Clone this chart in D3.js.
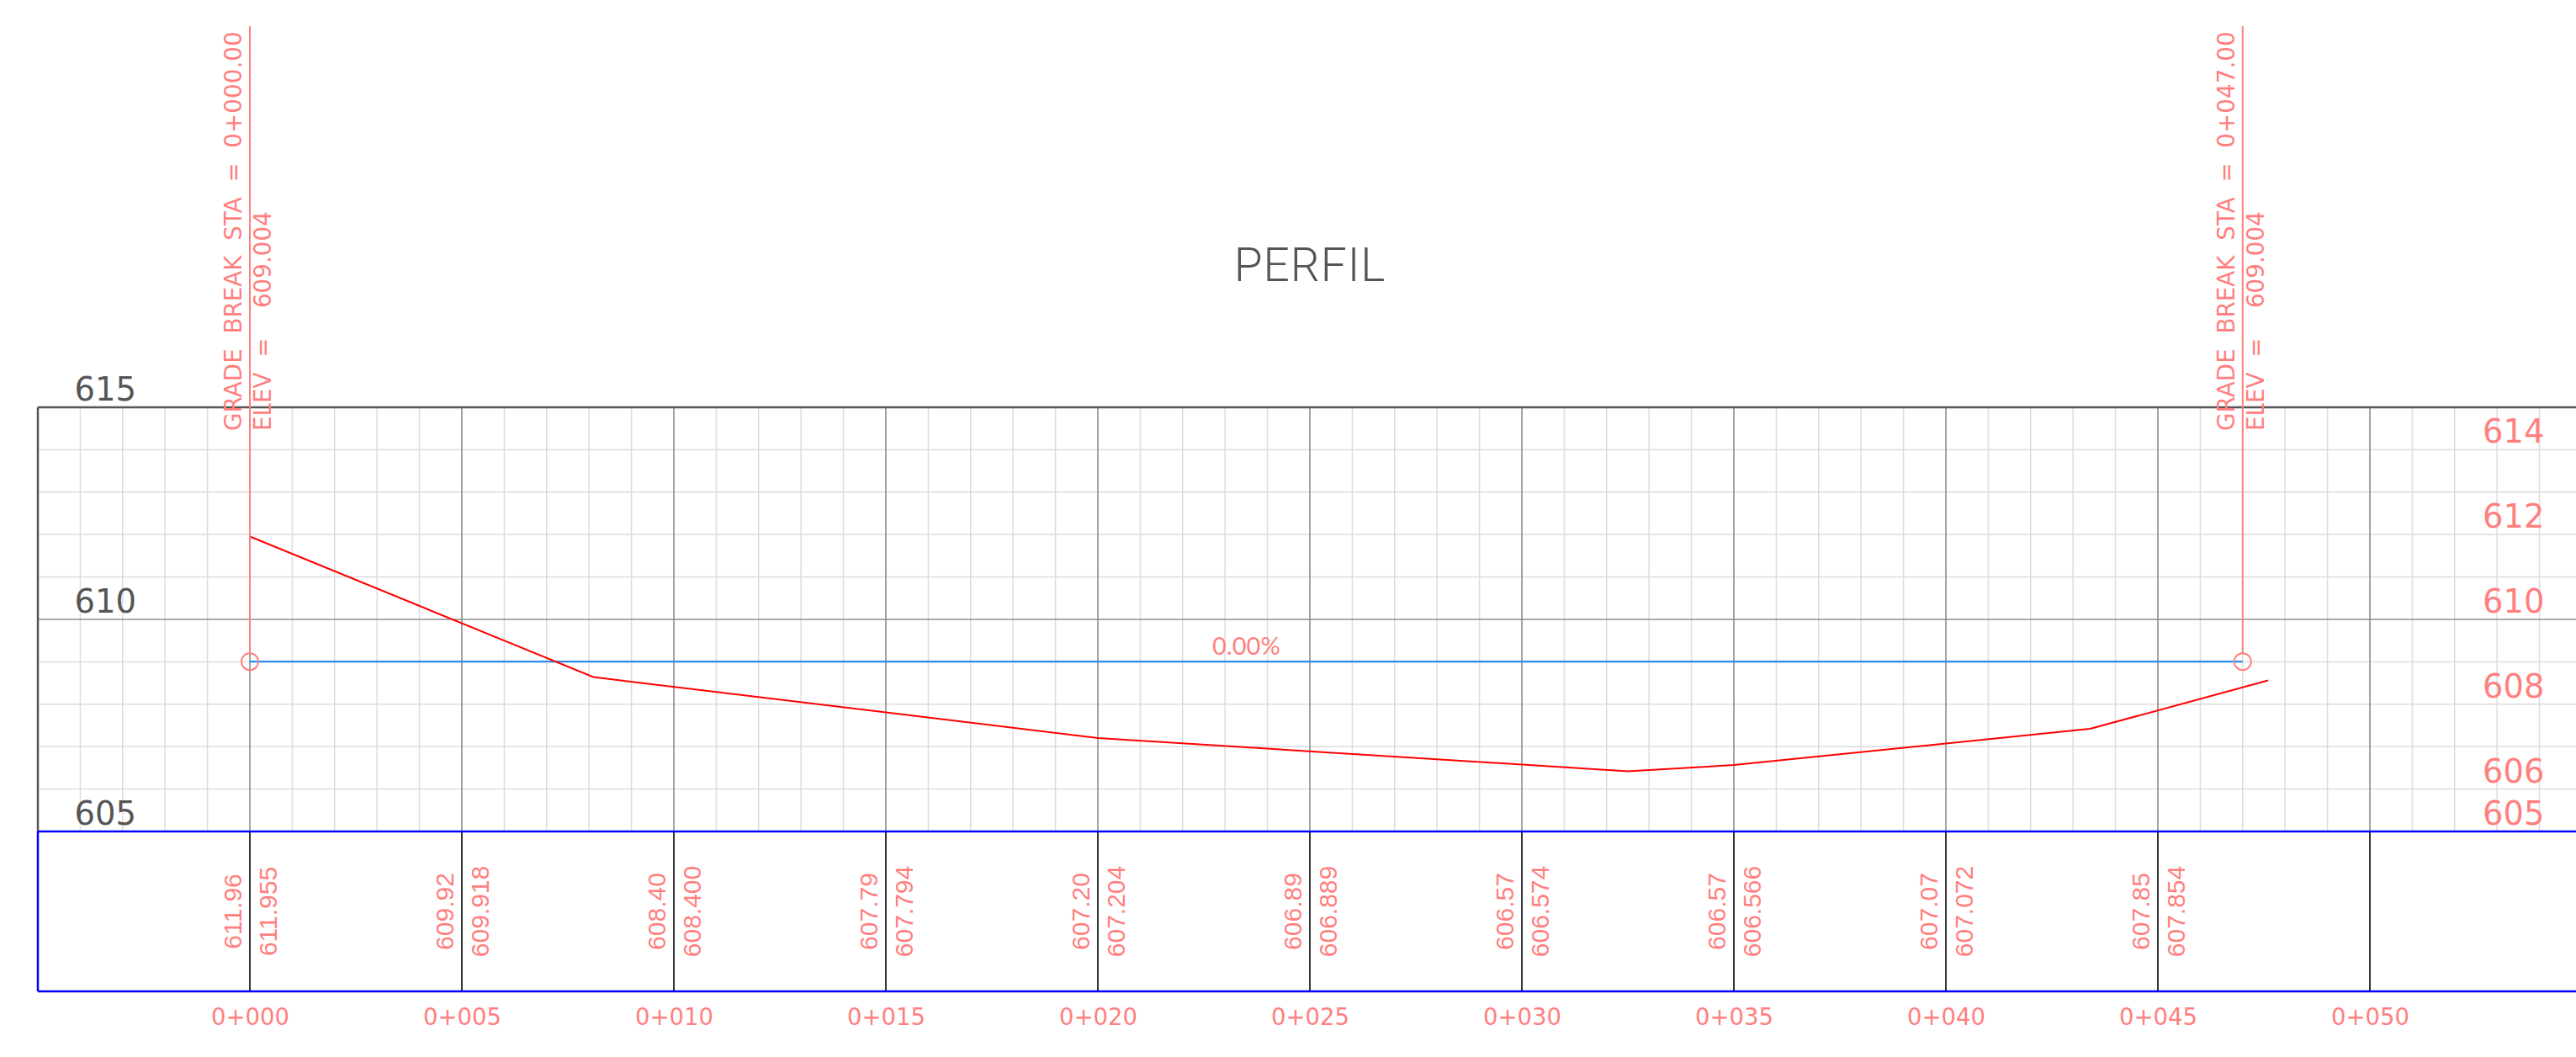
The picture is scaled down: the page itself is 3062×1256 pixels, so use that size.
<!DOCTYPE html>
<html>
<head>
<meta charset="utf-8">
<script src="https://cdn.jsdelivr.net/npm/d3@7"></script>
<style>
  html, body { margin: 0; padding: 0; background: #ffffff; }
  svg { display: block; }
</style>
</head>
<body>
<script>
// ---------------- DATA ----------------
const stationTicks = [0, 5, 10, 15, 20, 25, 30, 35, 40, 45, 50];
const bandStations = [0, 5, 10, 15, 20, 25, 30, 35, 40, 45];
const bandLeftLabels = ["611.96", "609.92", "608.40", "607.79", "607.20", "606.89", "606.57", "606.57", "607.07", "607.85"];
const bandRightLabels = ["611.955", "609.918", "608.400", "607.794", "607.204", "606.889", "606.574", "606.566", "607.072", "607.854"];
const groundStations = [0, 8.1, 20, 32.5, 35, 43.4, 47.6];
const groundElevs = [611.955, 608.64, 607.204, 606.42, 606.566, 607.42, 608.56];
const gradeStations = [0, 47];
const gradeElevs = [609.004, 609.004];
const gradeLabel = "0.00%";
const breakStations = [0, 47];
const breakStaLabels = ["0+000.00", "0+047.00"];
const breakElevLabels = ["609.004", "609.004"];
const leftElevTicks = [615, 610, 605];
const rightElevTicks = [614, 612, 610, 608, 606, 605];
const titleText = "PERFIL";

// ---------------- LAYOUT ----------------
const W = 3062, H = 1256;
const x = d3.scaleLinear().domain([-5, 55]).range([45, 3069]);
const y = d3.scaleLinear().domain([605, 615]).range([988, 484]);
const bandTop = 988, bandBot = 1178, bandMid = (bandTop + bandBot) / 2;
const salmon = "#ff7f7f";
const dark = "#555555";

const svg = d3.select("body").append("svg")
  .attr("width", W).attr("height", H)
  .style("background", "#fff");

// minor grid
const minorX = d3.range(-4, 56).filter(d => d % 5 !== 0);
const minorY = d3.range(606, 615).filter(d => d !== 610);
svg.append("g").selectAll("line").data(minorX).join("line")
  .attr("x1", d => x(d)).attr("x2", d => x(d))
  .attr("y1", y(615)).attr("y2", y(605))
  .attr("stroke", "#dcdcdc").attr("stroke-width", 1.5);
svg.append("g").selectAll("line").data(minorY).join("line")
  .attr("x1", x(-5)).attr("x2", x(55))
  .attr("y1", d => y(d)).attr("y2", d => y(d))
  .attr("stroke", "#dcdcdc").attr("stroke-width", 1.5);

// major grid
const majorX = d3.range(0, 56, 5);
svg.append("g").selectAll("line").data(majorX).join("line")
  .attr("x1", d => x(d)).attr("x2", d => x(d))
  .attr("y1", y(615)).attr("y2", y(605))
  .attr("stroke", "#8c8c8c").attr("stroke-width", 1.6);
svg.append("line")
  .attr("x1", x(-5)).attr("x2", x(55))
  .attr("y1", y(610)).attr("y2", y(610))
  .attr("stroke", "#8c8c8c").attr("stroke-width", 1.6);

// borders
svg.append("line").attr("x1", x(-5)).attr("x2", x(55))
  .attr("y1", y(615)).attr("y2", y(615))
  .attr("stroke", dark).attr("stroke-width", 2.5);
svg.append("line").attr("x1", x(-5)).attr("x2", x(-5))
  .attr("y1", y(615)).attr("y2", y(605))
  .attr("stroke", dark).attr("stroke-width", 2.5);

// band
svg.append("g").selectAll("line").data(stationTicks).join("line")
  .attr("x1", d => x(d)).attr("x2", d => x(d))
  .attr("y1", bandTop).attr("y2", bandBot)
  .attr("stroke", "#000").attr("stroke-width", 1.6);
svg.append("line").attr("x1", x(-5)).attr("x2", x(55))
  .attr("y1", bandTop).attr("y2", bandTop)
  .attr("stroke", "#0000ff").attr("stroke-width", 2.5);
svg.append("line").attr("x1", x(-5)).attr("x2", x(55))
  .attr("y1", bandBot).attr("y2", bandBot)
  .attr("stroke", "#0000ff").attr("stroke-width", 2.5);
svg.append("line").attr("x1", x(-5)).attr("x2", x(-5))
  .attr("y1", bandTop).attr("y2", bandBot)
  .attr("stroke", "#0000ff").attr("stroke-width", 2.5);

// band labels
const bandG = svg.append("g")
  .style("font-family", "'Liberation Sans', Arial, sans-serif")
  .style("font-size", "30px").attr("fill", salmon);
bandG.selectAll("text.l").data(bandStations).join("text")
  .attr("class", "l")
  .attr("transform", d => `translate(${x(d) - 10},${bandMid}) rotate(-90)`)
  .attr("text-anchor", "middle")
  .text((d, i) => bandLeftLabels[i]);
bandG.selectAll("text.r").data(bandStations).join("text")
  .attr("class", "r")
  .attr("transform", d => `translate(${x(d) + 32},${bandMid}) rotate(-90)`)
  .attr("text-anchor", "middle")
  .text((d, i) => bandRightLabels[i]);

// station axis
const fmtSta = d => "0+" + String(d).padStart(3, "0");
const axisG = svg.append("g")
  .attr("transform", `translate(0,${bandBot})`)
  .call(d3.axisBottom(x).tickValues(stationTicks).tickFormat(fmtSta).tickSize(0));
axisG.select(".domain").remove();
axisG.selectAll("text")
  .attr("y", 40).attr("dy", 0)
  .attr("fill", salmon)
  .style("font-family", "'DejaVu Sans', sans-serif")
  .style("font-size", "27.5px");

// grade line
const gradePts = gradeStations.map((s, i) => [s, gradeElevs[i]]);
svg.append("path")
  .attr("d", d3.line().x(d => x(d[0])).y(d => y(d[1]))(gradePts))
  .attr("fill", "none").attr("stroke", "#2b8cf0").attr("stroke-width", 2.2);
svg.append("text")
  .attr("x", x((gradeStations[0] + gradeStations[1]) / 2))
  .attr("y", y(gradeElevs[0]) - 8)
  .attr("text-anchor", "middle")
  .attr("fill", salmon)
  .style("font-family", "Lato, 'Open Sans', sans-serif")
  .style("font-size", "29px")
  .text(gradeLabel);

// ground line
const groundPts = groundStations.map((s, i) => [s, groundElevs[i]]);
svg.append("path")
  .attr("d", d3.line().x(d => x(d[0])).y(d => y(d[1]))(groundPts))
  .attr("fill", "none").attr("stroke", "#ff0000").attr("stroke-width", 2);

// grade breaks
const brG = svg.append("g");
breakStations.forEach((s, i) => {
  const cx = x(s), cy = y(gradeElevs[i] !== undefined ? gradeElevs[i] : gradeElevs[0]);
  brG.append("line")
    .attr("x1", cx).attr("x2", cx)
    .attr("y1", 31).attr("y2", cy - 10)
    .attr("stroke", salmon).attr("stroke-width", 2);
  brG.append("circle")
    .attr("cx", cx).attr("cy", cy).attr("r", 10)
    .attr("fill", "none").attr("stroke", salmon).attr("stroke-width", 2);
  brG.append("text")
    .attr("transform", `translate(${cx - 10},512) rotate(-90)`)
    .attr("fill", salmon)
    .style("font-family", "'DejaVu Sans', sans-serif").style("font-size", "27.8px")
    .style("white-space", "pre")
    .text("GRADE  BREAK  STA  =  " + breakStaLabels[i]);
  brG.append("text")
    .attr("transform", `translate(${cx + 25},512) rotate(-90)`)
    .attr("fill", salmon)
    .style("font-family", "'DejaVu Sans', sans-serif").style("font-size", "27.8px")
    .style("white-space", "pre")
    .text("ELEV  =    " + breakElevLabels[i]);
});

// elevation labels
svg.append("g").selectAll("text").data(leftElevTicks).join("text")
  .attr("x", 162).attr("y", d => y(d) - 8)
  .attr("text-anchor", "end")
  .attr("fill", dark)
  .style("font-family", "'DejaVu Sans', sans-serif")
  .style("font-size", "38.5px")
  .text(d => d);
svg.append("g").selectAll("text").data(rightElevTicks).join("text")
  .attr("x", 2951).attr("y", d => y(d) - 8)
  .attr("text-anchor", "start")
  .attr("fill", salmon)
  .style("font-family", "'DejaVu Sans', sans-serif")
  .style("font-size", "38.5px")
  .text(d => d);

// title
svg.append("text")
  .attr("x", x(25)).attr("y", 334)
  .attr("text-anchor", "middle")
  .attr("fill", dark)
  .style("font-family", "Roboto, 'Open Sans', sans-serif")
  .style("font-weight", 300)
  .style("font-size", "55px")
  .style("letter-spacing", "1px")
  .text(titleText);
</script>
</body>
</html>
